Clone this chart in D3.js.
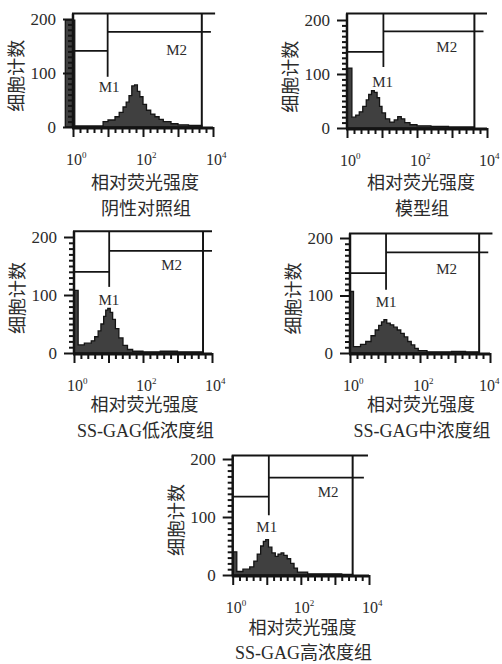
<!DOCTYPE html>
<html>
<head>
<meta charset="utf-8">
<script src="https://cdn.jsdelivr.net/npm/d3@7"></script>
<style>
  html, body { margin: 0; padding: 0; background: #fff; }
  svg { display: block; }
  text { font-family: "Liberation Serif", "Times New Roman", Times, "DejaVu Serif", "Noto Sans CJK SC", serif; fill: #2b2b2b; }
</style>
</head>
<body>
<script>
// ---------------- DATA ----------------
const groupNames = ["阴性对照组", "模型组", "SS-GAG低浓度组", "SS-GAG中浓度组", "SS-GAG高浓度组"];
const xTitle = "相对荧光强度";
const yTitle = "细胞计数";
const yTickValues = [0, 100, 200];
const xTickExponents = [0, 2, 4];

// histogram bins: log10(fluorescence) bin starts and cell counts (step after)
const ctrlX  = [-0.22, 0.05, 0.4, 0.86, 1.0, 1.2, 1.32, 1.43, 1.52, 1.6, 1.68, 1.76, 1.84, 1.91, 2.0, 2.1, 2.22, 2.34, 2.46, 2.58, 2.8, 3.0, 3.3, 3.68];
const ctrlY  = [198, 2, 2, 10, 13, 19, 27, 37, 46, 58, 76, 78, 66, 56, 42, 31, 24, 19, 14, 10, 6, 4, 3, 0];
const modelX = [0, 0.14, 0.25, 0.35, 0.45, 0.55, 0.62, 0.7, 0.78, 0.86, 0.93, 1.0, 1.1, 1.22, 1.35, 1.45, 1.55, 1.65, 1.8, 2.0, 2.4, 2.9, 3.3, 3.64];
const modelY = [111, 20, 24, 30, 40, 52, 62, 69, 66, 56, 40, 28, 17, 11, 15, 21, 17, 10, 6, 4, 3, 2, 2, 0];
const lowX   = [0, 0.12, 0.3, 0.5, 0.6, 0.7, 0.78, 0.86, 0.92, 0.98, 1.05, 1.12, 1.2, 1.3, 1.42, 1.55, 1.7, 2.0, 2.5, 3.0, 3.5, 3.74];
const lowY   = [108, 14, 17, 21, 28, 38, 50, 63, 74, 77, 70, 58, 42, 26, 13, 6, 3, 2, 3, 2, 2, 0];
const midX   = [0, 0.1, 0.3, 0.45, 0.6, 0.72, 0.82, 0.9, 0.97, 1.05, 1.15, 1.25, 1.35, 1.45, 1.55, 1.65, 1.75, 1.85, 1.95, 2.2, 2.6, 2.9, 3.3, 3.69];
const midY   = [107, 11, 15, 20, 30, 40, 48, 54, 58, 52, 49, 45, 40, 34, 28, 20, 14, 8, 4, 2, 2, 3, 2, 0];
const highX  = [0, 0.12, 0.3, 0.5, 0.62, 0.72, 0.82, 0.9, 0.97, 1.05, 1.15, 1.25, 1.33, 1.42, 1.5, 1.6, 1.7, 1.8, 1.9, 2.2, 2.8, 3.2, 3.52];
const highY  = [40, 6, 10, 14, 24, 36, 50, 58, 61, 48, 38, 32, 36, 38, 34, 28, 20, 12, 5, 2, 2, 1, 0];

// gate markers (log10 x positions, count levels)
const m1Edge   = [0.99, 1.04, 1.02, 1.03, 1.06];
const m2Edge   = [3.68, 3.64, 3.74, 3.69, 3.52];
const m1Level  = [141, 141, 140, 139, 135];
const m2Level  = [176, 179, 176, 175, 168];
const m1Drop   = [93, 113, 114, 110, 103];
const frameTop = [210, 212, 210, 208, 206];
const frameEnd = [4.06, 4.0, 4.0, 4.07, 3.97];
const m2End    = [3.94, 3.9, 4.0, 3.95, 3.85];

const histX = [ctrlX, modelX, lowX, midX, highX];
const histY = [ctrlY, modelY, lowY, midY, highY];

// ---------------- LAYOUT ----------------
const layout = [
  {x0: 73,    x1: 213, y0: 127, k: 0.54,  tx: 145,   ty: 183,   gy: 209,   m1: [1.03, 74], m2: [2.96, 143]},
  {x0: 347,   x1: 487, y0: 128, k: 0.54,  tx: 421,   ty: 183,   gy: 209,   m1: [1.02, 85], m2: [2.85, 150]},
  {x0: 74,    x1: 212, y0: 353, k: 0.58,  tx: 144.5, ty: 405,   gy: 430.5, m1: [1.01, 91], m2: [2.83, 152]},
  {x0: 350,   x1: 490, y0: 353, k: 0.575, tx: 421,   ty: 405,   gy: 430.5, m1: [1.03, 89], m2: [2.76, 146]},
  {x0: 232.7, x1: 369, y0: 575, k: 0.58,  tx: 302.5, ty: 628,   gy: 653,   m1: [1.0, 84],  m2: [2.8, 144]}
];

const svg = d3.select("body").append("svg").attr("width", 502).attr("height", 664);
const ink = "#141414";
const p10 = e => Math.pow(10, e);

layout.forEach((L, i) => {
  const g = svg.append("g");
  const x = d3.scaleLog().domain([1, 1e4]).range([L.x0, L.x1]);
  const y = d3.scaleLinear().domain([0, 200]).range([L.y0, L.y0 - 200 * L.k]);

  // histogram
  const pts = histX[i].map((v, j) => [v, histY[i][j]]);
  const area = d3.area()
    .x(d => x(p10(d[0])))
    .y0(y(0))
    .y1(d => y(d[1]))
    .curve(d3.curveStepAfter);
  g.append("path").datum(pts).attr("d", area)
    .attr("fill", "#404040").attr("stroke", ink).attr("stroke-width", 1.3);

  // x minor ticks (every 0.2 decade)
  const minor = d3.range(0, 4.01, 0.2).filter(v => Math.abs(v - Math.round(v)) > 0.01).map(p10);
  g.append("g").attr("transform", `translate(0,${y(0)})`)
    .call(d3.axisBottom(x).tickValues(minor).tickSize(6).tickFormat(""))
    .call(a => a.select(".domain").remove())
    .call(a => a.selectAll("line").attr("stroke", ink).attr("stroke-width", 2));
  g.append("g").attr("transform", `translate(0,${y(0)})`)
    .call(d3.axisBottom(x).tickValues([1, 10, 100, 1000, 10000]).tickSize(10).tickFormat(""))
    .call(a => a.select(".domain").remove())
    .call(a => a.selectAll("line").attr("stroke", ink).attr("stroke-width", 2));

  // y minor / major ticks
  g.append("g").attr("transform", `translate(${L.x0},0)`)
    .call(d3.axisLeft(y).tickValues(d3.range(0, 201, 10).filter(v => v % 100)).tickSize(5).tickFormat(""))
    .call(a => a.select(".domain").remove())
    .call(a => a.selectAll("line").attr("stroke", ink).attr("stroke-width", 2));
  const yAx = g.append("g").attr("transform", `translate(${L.x0},0)`)
    .call(d3.axisLeft(y).tickValues(yTickValues).tickSize(10).tickPadding(7))
    .call(a => a.select(".domain").remove())
    .call(a => a.selectAll("line").attr("stroke", ink).attr("stroke-width", 2));
  yAx.attr("font-family", null).attr("font-size", null);
  yAx.selectAll("text").attr("font-size", 17).attr("fill", "#2b2b2b");

  // baseline and left axis
  g.append("line").attr("x1", L.x0 - 1).attr("x2", x(p10(4))).attr("y1", y(0) + 1).attr("y2", y(0) + 1)
    .attr("stroke", ink).attr("stroke-width", 3);
  g.append("line").attr("x1", L.x0).attr("x2", L.x0).attr("y1", y(0) + 1).attr("y2", y(frameTop[i]))
    .attr("stroke", ink).attr("stroke-width", 2.5);

  // frame top
  g.append("line").attr("x1", L.x0 - 1).attr("x2", x(p10(frameEnd[i]))).attr("y1", y(frameTop[i])).attr("y2", y(frameTop[i]))
    .attr("stroke", ink).attr("stroke-width", 2);
  // M1 gate
  g.append("line").attr("x1", L.x0).attr("x2", x(p10(m1Edge[i]))).attr("y1", y(m1Level[i])).attr("y2", y(m1Level[i]))
    .attr("stroke", ink).attr("stroke-width", 1.8);
  g.append("line").attr("x1", x(p10(m1Edge[i]))).attr("x2", x(p10(m1Edge[i]))).attr("y1", y(frameTop[i])).attr("y2", y(m1Drop[i]))
    .attr("stroke", ink).attr("stroke-width", 1.8);
  // M2 gate
  g.append("line").attr("x1", x(p10(m1Edge[i]))).attr("x2", x(p10(m2End[i]))).attr("y1", y(m2Level[i])).attr("y2", y(m2Level[i]))
    .attr("stroke", ink).attr("stroke-width", 1.8);
  g.append("line").attr("x1", x(p10(m2Edge[i]))).attr("x2", x(p10(m2Edge[i]))).attr("y1", y(frameTop[i])).attr("y2", y(0))
    .attr("stroke", ink).attr("stroke-width", 2);

  // gate labels
  g.append("text").attr("x", x(p10(L.m1[0]))).attr("y", y(L.m1[1])).attr("dy", "0.35em")
    .attr("text-anchor", "middle").attr("font-size", 15).text("M1");
  g.append("text").attr("x", x(p10(L.m2[0]))).attr("y", y(L.m2[1])).attr("dy", "0.35em")
    .attr("text-anchor", "middle").attr("font-size", 15).text("M2");

  // x tick labels 10^n
  xTickExponents.forEach(e => {
    const t = g.append("text").attr("x", x(p10(e)) - 7).attr("y", y(0) + 38)
      .attr("font-size", 16);
    t.append("tspan").text("10");
    t.append("tspan").attr("font-size", 9).attr("dy", -7).text(String(e));
    const bb = t.node().getBBox();
    if (bb.x + bb.width > 500) t.attr("x", +t.attr("x") - (bb.x + bb.width - 500));
  });

  // axis titles
  g.append("text").attr("transform", `translate(${L.x0 - 56},${y(95)}) rotate(-90)`)
    .attr("text-anchor", "middle").attr("dy", "0.35em").attr("font-size", 18).text(yTitle);
  g.append("text").attr("x", L.tx).attr("y", L.ty).attr("dy", "0.35em")
    .attr("text-anchor", "middle").attr("font-size", 18).text(xTitle);
  g.append("text").attr("x", L.tx + 1).attr("y", L.gy).attr("dy", "0.35em")
    .attr("text-anchor", "middle").attr("font-size", 18).text(groupNames[i]);
});
</script>
</body>
</html>
